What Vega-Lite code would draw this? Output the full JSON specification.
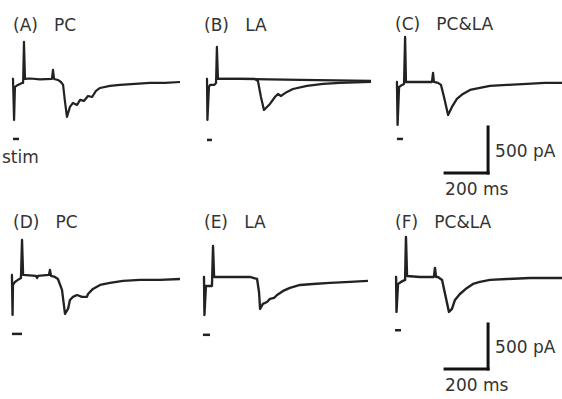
{
  "$schema": "https://vega.github.io/schema/vega-lite/v6.json",
  "padding": {"left": 2, "top": 15, "right": 0, "bottom": 0},
  "background": "white",
  "data": {"values": [
    {"k":"tr","p":"A","s":1,"t":-10,"i":0},{"k":"tr","p":"A","s":1,"t":-5,"i":0},{"k":"tr","p":"A","s":1,"t":0,"i":-446},{"k":"tr","p":"A","s":1,"t":4,"i":-87},{"k":"tr","p":"A","s":1,"t":18,"i":-65},{"k":"tr","p":"A","s":1,"t":37,"i":-43},{"k":"tr","p":"A","s":1,"t":42,"i":-43},{"k":"tr","p":"A","s":1,"t":46,"i":402},{"k":"tr","p":"A","s":1,"t":51,"i":0},{"k":"tr","p":"A","s":1,"t":74,"i":5},{"k":"tr","p":"A","s":1,"t":121,"i":-5},{"k":"tr","p":"A","s":1,"t":176,"i":0},{"k":"tr","p":"A","s":1,"t":181,"i":98},{"k":"tr","p":"A","s":1,"t":186,"i":0},{"k":"tr","p":"A","s":1,"t":204,"i":-11},{"k":"tr","p":"A","s":1,"t":218,"i":-33},{"k":"tr","p":"A","s":1,"t":228,"i":-65},{"k":"tr","p":"A","s":1,"t":237,"i":-250},{"k":"tr","p":"A","s":1,"t":246,"i":-413},{"k":"tr","p":"A","s":1,"t":260,"i":-304},{"k":"tr","p":"A","s":1,"t":274,"i":-261},{"k":"tr","p":"A","s":1,"t":293,"i":-283},{"k":"tr","p":"A","s":1,"t":307,"i":-228},{"k":"tr","p":"A","s":1,"t":325,"i":-239},{"k":"tr","p":"A","s":1,"t":344,"i":-185},{"k":"tr","p":"A","s":1,"t":363,"i":-196},{"k":"tr","p":"A","s":1,"t":381,"i":-130},{"k":"tr","p":"A","s":1,"t":400,"i":-98},{"k":"tr","p":"A","s":1,"t":446,"i":-76},{"k":"tr","p":"A","s":1,"t":493,"i":-65},{"k":"tr","p":"A","s":1,"t":563,"i":-54},{"k":"tr","p":"A","s":1,"t":632,"i":-43},{"k":"tr","p":"A","s":1,"t":702,"i":-43},{"k":"tr","p":"A","s":1,"t":772,"i":-33},

    {"k":"tr","p":"B","s":1,"t":4,"i":0},{"k":"tr","p":"B","s":1,"t":9,"i":0},{"k":"tr","p":"B","s":1,"t":11,"i":-446},{"k":"tr","p":"B","s":1,"t":18,"i":-87},{"k":"tr","p":"B","s":1,"t":23,"i":-65},{"k":"tr","p":"B","s":1,"t":42,"i":-65},{"k":"tr","p":"B","s":1,"t":51,"i":-43},{"k":"tr","p":"B","s":1,"t":55,"i":348},{"k":"tr","p":"B","s":1,"t":60,"i":0},{"k":"tr","p":"B","s":1,"t":162,"i":0},{"k":"tr","p":"B","s":1,"t":442,"i":-11},{"k":"tr","p":"B","s":1,"t":772,"i":-22},
    {"k":"tr","p":"B","s":2,"t":60,"i":0},{"k":"tr","p":"B","s":2,"t":232,"i":0},{"k":"tr","p":"B","s":2,"t":246,"i":-22},{"k":"tr","p":"B","s":2,"t":260,"i":-196},{"k":"tr","p":"B","s":2,"t":274,"i":-337},{"k":"tr","p":"B","s":2,"t":288,"i":-304},{"k":"tr","p":"B","s":2,"t":302,"i":-272},{"k":"tr","p":"B","s":2,"t":325,"i":-196},{"k":"tr","p":"B","s":2,"t":339,"i":-163},{"k":"tr","p":"B","s":2,"t":353,"i":-185},{"k":"tr","p":"B","s":2,"t":367,"i":-163},{"k":"tr","p":"B","s":2,"t":381,"i":-141},{"k":"tr","p":"B","s":2,"t":409,"i":-109},{"k":"tr","p":"B","s":2,"t":474,"i":-76},{"k":"tr","p":"B","s":2,"t":549,"i":-54},{"k":"tr","p":"B","s":2,"t":628,"i":-43},{"k":"tr","p":"B","s":2,"t":772,"i":-33},

    {"k":"tr","p":"C","s":1,"t":0,"i":-33},{"k":"tr","p":"C","s":1,"t":4,"i":-33},{"k":"tr","p":"C","s":1,"t":7,"i":-500},{"k":"tr","p":"C","s":1,"t":14,"i":-87},{"k":"tr","p":"C","s":1,"t":28,"i":-65},{"k":"tr","p":"C","s":1,"t":37,"i":-54},{"k":"tr","p":"C","s":1,"t":42,"i":457},{"k":"tr","p":"C","s":1,"t":46,"i":-33},{"k":"tr","p":"C","s":1,"t":111,"i":-33},{"k":"tr","p":"C","s":1,"t":167,"i":-33},{"k":"tr","p":"C","s":1,"t":172,"i":65},{"k":"tr","p":"C","s":1,"t":176,"i":-33},{"k":"tr","p":"C","s":1,"t":195,"i":-43},{"k":"tr","p":"C","s":1,"t":209,"i":-65},{"k":"tr","p":"C","s":1,"t":223,"i":-196},{"k":"tr","p":"C","s":1,"t":242,"i":-391},{"k":"tr","p":"C","s":1,"t":260,"i":-304},{"k":"tr","p":"C","s":1,"t":283,"i":-217},{"k":"tr","p":"C","s":1,"t":311,"i":-163},{"k":"tr","p":"C","s":1,"t":344,"i":-120},{"k":"tr","p":"C","s":1,"t":390,"i":-98},{"k":"tr","p":"C","s":1,"t":437,"i":-76},{"k":"tr","p":"C","s":1,"t":516,"i":-65},{"k":"tr","p":"C","s":1,"t":609,"i":-54},{"k":"tr","p":"C","s":1,"t":693,"i":-43},{"k":"tr","p":"C","s":1,"t":772,"i":-43},

    {"k":"tr","p":"D","s":1,"t":-14,"i":11},{"k":"tr","p":"D","s":1,"t":-10,"i":11},{"k":"tr","p":"D","s":1,"t":-7,"i":-424},{"k":"tr","p":"D","s":1,"t":-5,"i":-98},{"k":"tr","p":"D","s":1,"t":4,"i":-65},{"k":"tr","p":"D","s":1,"t":18,"i":-43},{"k":"tr","p":"D","s":1,"t":32,"i":-22},{"k":"tr","p":"D","s":1,"t":37,"i":391},{"k":"tr","p":"D","s":1,"t":42,"i":11},{"k":"tr","p":"D","s":1,"t":102,"i":0},{"k":"tr","p":"D","s":1,"t":107,"i":-22},{"k":"tr","p":"D","s":1,"t":111,"i":0},{"k":"tr","p":"D","s":1,"t":162,"i":11},{"k":"tr","p":"D","s":1,"t":167,"i":65},{"k":"tr","p":"D","s":1,"t":172,"i":0},{"k":"tr","p":"D","s":1,"t":190,"i":-11},{"k":"tr","p":"D","s":1,"t":204,"i":-33},{"k":"tr","p":"D","s":1,"t":223,"i":-152},{"k":"tr","p":"D","s":1,"t":237,"i":-413},{"k":"tr","p":"D","s":1,"t":251,"i":-359},{"k":"tr","p":"D","s":1,"t":260,"i":-261},{"k":"tr","p":"D","s":1,"t":274,"i":-228},{"k":"tr","p":"D","s":1,"t":293,"i":-207},{"k":"tr","p":"D","s":1,"t":316,"i":-228},{"k":"tr","p":"D","s":1,"t":339,"i":-228},{"k":"tr","p":"D","s":1,"t":344,"i":-196},{"k":"tr","p":"D","s":1,"t":367,"i":-141},{"k":"tr","p":"D","s":1,"t":400,"i":-98},{"k":"tr","p":"D","s":1,"t":446,"i":-76},{"k":"tr","p":"D","s":1,"t":507,"i":-54},{"k":"tr","p":"D","s":1,"t":586,"i":-43},{"k":"tr","p":"D","s":1,"t":679,"i":-43},{"k":"tr","p":"D","s":1,"t":772,"i":-33},

    {"k":"tr","p":"E","s":1,"t":-10,"i":-11},{"k":"tr","p":"E","s":1,"t":-5,"i":-11},{"k":"tr","p":"E","s":1,"t":-3,"i":-424},{"k":"tr","p":"E","s":1,"t":4,"i":-109},{"k":"tr","p":"E","s":1,"t":32,"i":-109},{"k":"tr","p":"E","s":1,"t":37,"i":326},{"k":"tr","p":"E","s":1,"t":42,"i":-11},{"k":"tr","p":"E","s":1,"t":116,"i":-11},{"k":"tr","p":"E","s":1,"t":209,"i":-11},{"k":"tr","p":"E","s":1,"t":242,"i":-33},{"k":"tr","p":"E","s":1,"t":251,"i":-174},{"k":"tr","p":"E","s":1,"t":256,"i":-359},{"k":"tr","p":"E","s":1,"t":269,"i":-304},{"k":"tr","p":"E","s":1,"t":288,"i":-283},{"k":"tr","p":"E","s":1,"t":302,"i":-250},{"k":"tr","p":"E","s":1,"t":321,"i":-239},{"k":"tr","p":"E","s":1,"t":335,"i":-207},{"k":"tr","p":"E","s":1,"t":363,"i":-163},{"k":"tr","p":"E","s":1,"t":395,"i":-130},{"k":"tr","p":"E","s":1,"t":442,"i":-98},{"k":"tr","p":"E","s":1,"t":502,"i":-87},{"k":"tr","p":"E","s":1,"t":581,"i":-76},{"k":"tr","p":"E","s":1,"t":674,"i":-65},{"k":"tr","p":"E","s":1,"t":758,"i":-54},

    {"k":"tr","p":"F","s":1,"t":-5,"i":-11},{"k":"tr","p":"F","s":1,"t":0,"i":-11},{"k":"tr","p":"F","s":1,"t":2,"i":-391},{"k":"tr","p":"F","s":1,"t":9,"i":-87},{"k":"tr","p":"F","s":1,"t":23,"i":-65},{"k":"tr","p":"F","s":1,"t":42,"i":-43},{"k":"tr","p":"F","s":1,"t":46,"i":424},{"k":"tr","p":"F","s":1,"t":51,"i":0},{"k":"tr","p":"F","s":1,"t":111,"i":-11},{"k":"tr","p":"F","s":1,"t":176,"i":-11},{"k":"tr","p":"F","s":1,"t":181,"i":87},{"k":"tr","p":"F","s":1,"t":186,"i":-11},{"k":"tr","p":"F","s":1,"t":195,"i":-11},{"k":"tr","p":"F","s":1,"t":214,"i":-43},{"k":"tr","p":"F","s":1,"t":228,"i":-196},{"k":"tr","p":"F","s":1,"t":246,"i":-391},{"k":"tr","p":"F","s":1,"t":260,"i":-359},{"k":"tr","p":"F","s":1,"t":274,"i":-261},{"k":"tr","p":"F","s":1,"t":297,"i":-196},{"k":"tr","p":"F","s":1,"t":330,"i":-130},{"k":"tr","p":"F","s":1,"t":358,"i":-87},{"k":"tr","p":"F","s":1,"t":390,"i":-65},{"k":"tr","p":"F","s":1,"t":437,"i":-43},{"k":"tr","p":"F","s":1,"t":516,"i":-33},{"k":"tr","p":"F","s":1,"t":623,"i":-22},{"k":"tr","p":"F","s":1,"t":772,"i":-22},

    {"k":"st","p":"A","t":-5,"t2":23,"i":-652,"lab":"stim"},
    {"k":"st","p":"B","t":9,"t2":32,"i":-663},
    {"k":"st","p":"C","t":4,"t2":32,"i":-652},
    {"k":"st","p":"D","t":-10,"t2":37,"i":-630},
    {"k":"st","p":"E","t":-10,"t2":23,"i":-640},
    {"k":"st","p":"F","t":-5,"t2":23,"i":-590},

    {"k":"sb","p":"C","t":228,"t2":428,"i":-1022,"i2":-522,"vl":"500 pA","hl":"200 ms"},
    {"k":"sb","p":"F","t":228,"t2":428,"i":-1011,"i2":-522,"vl":"500 pA","hl":"200 ms"}
  ]},
  "columns": 3,
  "bounds": "flush",
  "spacing": {"row": 35, "column": 24},
  "facet": {
    "field": "p", "type": "nominal", "sort": ["A","B","C","D","E","F"], "title": null,
    "header": {
      "labelExpr": "datum.value=='A'?'(A)\u00a0\u00a0\u00a0PC':datum.value=='B'?'(B)\u00a0\u00a0\u00a0LA':datum.value=='C'?'(C)\u00a0\u00a0\u00a0PC&LA':datum.value=='D'?'(D)\u00a0\u00a0\u00a0PC':datum.value=='E'?'(E)\u00a0\u00a0\u00a0LA':'(F)\u00a0\u00a0\u00a0PC&LA'",
      "labelAnchor": "start", "labelAlign": "left", "labelFont": "DejaVu Sans", "labelFontSize": 17,
      "labelColor": "#333", "labelPadding": 2
    }
  },
  "spec": {
    "width": 167,
    "height": 162,
    "encoding": {
      "x": {"field": "t", "type": "quantitative", "scale": {"domain": [-5, 772], "nice": false, "zero": false}},
      "y": {"field": "i", "type": "quantitative", "scale": {"domain": [-1305, 456], "nice": false, "zero": false}}
    },
    "layer": [
      {"transform": [{"filter": "datum.k=='tr'"}],
       "mark": {"type": "line", "color": "#222", "strokeJoin": "round"},
       "encoding": {
         "detail": {"field": "s", "type": "nominal"},
         "strokeWidth": {"field": "p", "type": "nominal", "scale": {"domain": ["A","B","C","D","E","F"], "range": [2.2,2.4,2.2,1.4,1.4,1.4]}, "legend": null}
       }},
      {"transform": [{"filter": "datum.k=='st'"}],
       "mark": {"type": "rule", "color": "#222", "strokeWidth": 2.5},
       "encoding": {"x2": {"field": "t2"}}},
      {"transform": [{"filter": "datum.k=='st' && datum.lab"}],
       "mark": {"type": "text", "align": "left", "baseline": "middle", "dx": -11, "dy": 19, "font": "DejaVu Sans", "fontSize": 17, "color": "#333"},
       "encoding": {"text": {"field": "lab"}}},
      {"transform": [{"filter": "datum.k=='sb'"}],
       "mark": {"type": "rule", "color": "#111", "strokeWidth": 3, "strokeCap": "square"},
       "encoding": {"x2": {"field": "t2"}}},
      {"transform": [{"filter": "datum.k=='sb'"}],
       "mark": {"type": "rule", "color": "#111", "strokeWidth": 3, "strokeCap": "square"},
       "encoding": {"x": {"field": "t2", "type": "quantitative"}, "y2": {"field": "i2"}}},
      {"transform": [{"filter": "datum.k=='sb'"}],
       "mark": {"type": "text", "align": "left", "baseline": "middle", "dx": 7, "dy": -21, "font": "DejaVu Sans", "fontSize": 17, "color": "#333"},
       "encoding": {"x": {"field": "t2", "type": "quantitative"}, "text": {"field": "vl"}}},
      {"transform": [{"filter": "datum.k=='sb'"}],
       "mark": {"type": "text", "align": "left", "baseline": "middle", "dy": 17, "font": "DejaVu Sans", "fontSize": 17, "color": "#333"},
       "encoding": {"text": {"field": "hl"}}}
    ]
  },
  "config": {"view": {"stroke": null}, "axis": {"disable": true}}
}
